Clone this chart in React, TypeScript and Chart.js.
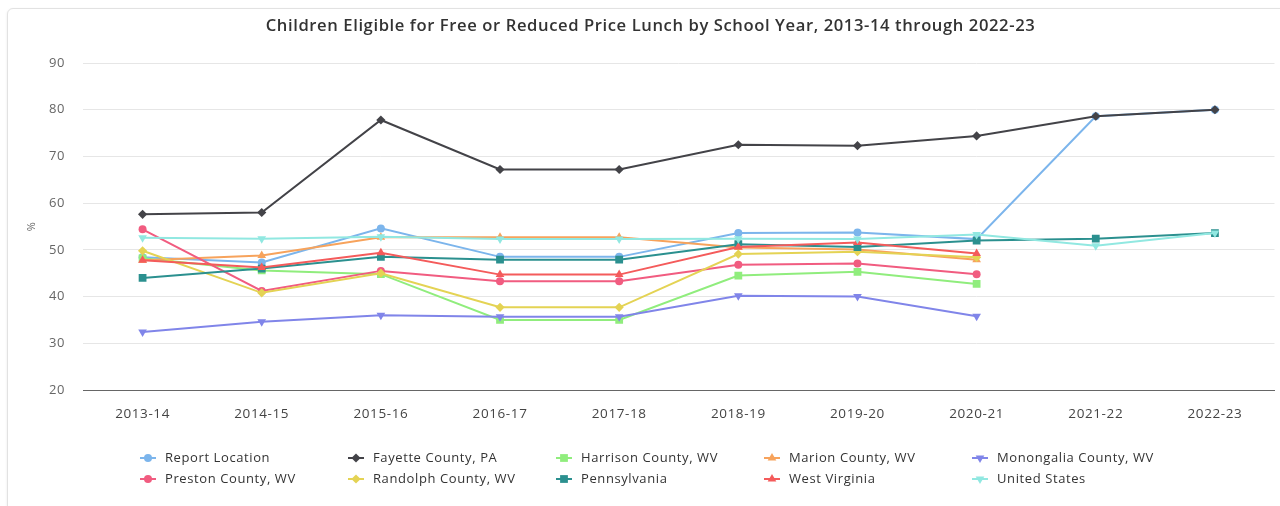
import React, { useEffect, useRef } from "react";
import { Chart, registerables } from "chart.js";
import { drawPoint } from "chart.js/helpers";

Chart.register(...registerables);

const categories = ["2013-14", "2014-15", "2015-16", "2016-17", "2017-18", "2018-19", "2019-20", "2020-21", "2021-22", "2022-23"];
const yTicks = [20, 30, 40, 50, 60, 70, 80, 90];

const reportLocation = [48.4, 47.3, 54.6, 48.5, 48.5, 53.6, 53.7, 52.3, 78.6, 80.0];
const fayettePA = [57.6, 58.0, 77.8, 67.2, 67.2, 72.5, 72.3, 74.4, 78.6, 80.0];
const harrisonWV = [48.2, 45.6, 44.8, 35.0, 35.0, 44.5, 45.3, 42.7, null, null];
const marionWV = [47.8, 48.8, 52.7, 52.7, 52.7, 50.5, 50.1, 47.9, null, null];
const monongaliaWV = [32.4, 34.6, 36.0, 35.7, 35.7, 40.2, 40.0, 35.8, null, null];
const prestonWV = [54.4, 41.2, 45.5, 43.3, 43.3, 46.8, 47.1, 44.8, null, null];
const randolphWV = [49.8, 40.8, 45.0, 37.7, 37.7, 49.1, 49.6, 48.4, null, null];
const pennsylvania = [44.0, 46.0, 48.5, 47.9, 47.9, 51.2, 50.6, 52.0, 52.4, 53.6];
const westVirginia = [47.8, 46.2, 49.4, 44.7, 44.7, 50.6, 51.6, 49.2, null, null];
const unitedStates = [52.6, 52.4, 52.8, 52.3, 52.3, 52.4, 52.3, 53.3, 50.9, 53.6];

const seriesNames = [
  "Report Location",
  "Fayette County, PA",
  "Harrison County, WV",
  "Marion County, WV",
  "Monongalia County, WV",
  "Preston County, WV",
  "Randolph County, WV",
  "Pennsylvania",
  "West Virginia",
  "United States",
];
const seriesValues = [
  reportLocation, fayettePA, harrisonWV, marionWV, monongaliaWV,
  prestonWV, randolphWV, pennsylvania, westVirginia, unitedStates,
];
const seriesColors = ["#7cb5ec", "#434348", "#90ed7d", "#f7a35c", "#8085e9", "#f15c80", "#e4d354", "#2b908f", "#f45b5b", "#91e8e1"];
const seriesStyles = ["circle", "rectRot", "rect", "triangle", "triangle", "circle", "rectRot", "rect", "triangle", "triangle"];
const seriesRotations = [0, 0, 0, 0, 180, 0, 0, 0, 0, 180];
const styleRadius: Record<string, number> = { circle: 4, rectRot: 4.6, rect: 5.5, triangle: 5 };

const FONT = "'Open Sans', 'Noto Sans', sans-serif";
const TITLE = "Children Eligible for Free or Reduced Price Lunch by School Year, 2013-14 through 2022-23";
const LETTER_SPACING = "0.6px";

const LEGEND = { x0: 148, dx: 208, y0: 458, dy: 21, cols: 5, line: 8, textGap: 17 };

const letterSpacingPlugin = {
  id: "letterSpacing",
  beforeLayout(chart: any) { chart.ctx.letterSpacing = LETTER_SPACING; },
  beforeDraw(chart: any) { chart.ctx.letterSpacing = LETTER_SPACING; },
};

const gridLegend = {
  id: "gridLegend",
  afterDraw(chart: any) {
    const ctx = chart.ctx;
    ctx.save();
    ctx.letterSpacing = LETTER_SPACING;
    chart.data.datasets.forEach((ds: any, i: number) => {
      const col = i % LEGEND.cols;
      const row = Math.floor(i / LEGEND.cols);
      const x = LEGEND.x0 + col * LEGEND.dx;
      const y = LEGEND.y0 + row * LEGEND.dy;
      ctx.strokeStyle = ds.borderColor;
      ctx.lineWidth = 2;
      ctx.beginPath();
      ctx.moveTo(x - LEGEND.line, y);
      ctx.lineTo(x + LEGEND.line, y);
      ctx.stroke();
      ctx.fillStyle = ds.backgroundColor;
      ctx.strokeStyle = ds.borderColor;
      drawPoint(ctx, { pointStyle: ds.pointStyle, rotation: ds.pointRotation, radius: ds.pointRadius, borderWidth: 0 }, x, y);
      ctx.fillStyle = "#333333";
      ctx.font = `13px ${FONT}`;
      ctx.textAlign = "left";
      ctx.textBaseline = "middle";
      ctx.fillText(ds.label, x + LEGEND.textGap, y);
    });
    ctx.restore();
  },
};

export default function App() {
  const canvasRef = useRef<HTMLCanvasElement | null>(null);

  useEffect(() => {
    if (!canvasRef.current) return;
    const datasets = seriesNames.map((name, i) => ({
      label: name,
      data: seriesValues[i],
      borderColor: seriesColors[i],
      backgroundColor: seriesColors[i],
      pointBackgroundColor: seriesColors[i],
      pointBorderColor: seriesColors[i],
      pointBorderWidth: 0,
      pointStyle: seriesStyles[i],
      pointRotation: seriesRotations[i],
      pointRadius: styleRadius[seriesStyles[i]],
      borderWidth: 2,
      tension: 0,
      spanGaps: false,
      order: seriesNames.length - i,
    }));
    const chart = new Chart(canvasRef.current, {
      type: "line",
      data: { labels: categories, datasets },
      options: {
        animation: false,
        responsive: false,
        devicePixelRatio: 1,
        layout: { padding: { left: 25, right: 4, top: 0, bottom: 86 } },
        plugins: {
          legend: { display: false },
          tooltip: { enabled: false },
          title: {
            display: true,
            text: TITLE,
            color: "#333333",
            font: { family: FONT, size: 16.6, weight: "600", lineHeight: 1.2 },
            padding: { top: 16.5, bottom: 26.6 },
          },
        },
        scales: {
          x: {
            type: "category",
            offset: true,
            grid: { display: false, drawTicks: false },
            border: { display: true, color: "#666666", width: 1 },
            ticks: { color: "#444444", font: { family: FONT, size: 13.5 }, padding: 16, maxRotation: 0, autoSkip: false },
            afterFit: (s: any) => { s.height = 30; },
          },
          y: {
            min: yTicks[0],
            max: yTicks[yTicks.length - 1],
            afterBuildTicks: (s: any) => { s.ticks = yTicks.map((v) => ({ value: v })); },
            ticks: { color: "#666666", font: { family: FONT, size: 13 }, padding: 18 },
            grid: {
              drawTicks: false,
              color: (c: any) => (c.tick && c.tick.value === yTicks[0] ? "rgba(0,0,0,0)" : "#e6e6e6"),
            },
            border: { display: false },
            title: { display: true, text: "%", color: "#666666", font: { family: FONT, size: 11 }, padding: 0 },
            afterFit: (s: any) => { s.width = 58; },
          },
        },
      },
      plugins: [letterSpacingPlugin, gridLegend],
    } as any);
    return () => chart.destroy();
  }, []);

  return (
    <div style={{ position: "absolute", left: 0, top: 0, width: 1280, height: 506, overflow: "hidden", background: "#ffffff" }}>
      <div
        style={{
          position: "absolute",
          left: 7,
          top: 8,
          width: 1320,
          height: 560,
          border: "1px solid #e2e2e2",
          borderRadius: 6,
          boxShadow: "0 1px 3px rgba(0,0,0,0.08)",
          background: "#ffffff",
        }}
      />
      <canvas ref={canvasRef} width={1280} height={506} style={{ position: "absolute", left: 0, top: 0, width: 1280, height: 506 }} />
    </div>
  );
}
